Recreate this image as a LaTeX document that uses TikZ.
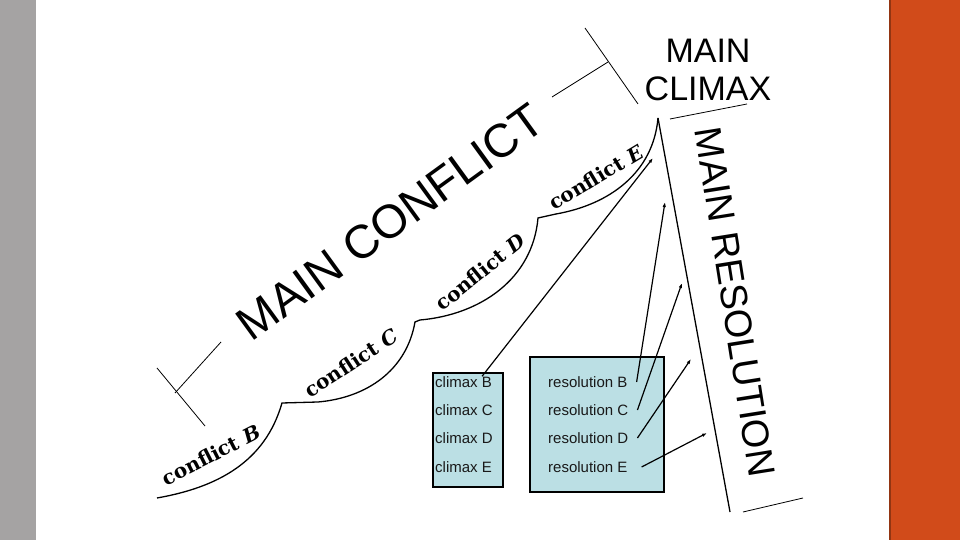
\documentclass[tikz,border=0pt]{standalone}
\usepackage{fontspec}
\setmainfont{Liberation Sans}
\newfontfamily\conffont{DejaVu Serif}
\usetikzlibrary{arrows.meta}
\definecolor{bargray}{RGB}{165,163,163}
\definecolor{barorange}{RGB}{209,75,26}
\definecolor{boxblue}{RGB}{187,223,228}

\begin{document}
\begin{tikzpicture}[x=1pt,y=1pt,
  arc/.style={draw=black,line width=1.3pt},
  tick/.style={draw=black,line width=0.8pt},
  ptr/.style={-{Latex[length=5pt,width=3.5pt]},draw=black,line width=1.2pt},
  big/.style={font=\fontsize{47}{47}\selectfont,inner sep=0pt},
  conf/.style={font=\conffont\bfseries\fontsize{20}{20}\selectfont,inner sep=0pt},
  box/.style={draw=black,line width=1.3pt,fill=boxblue,inner sep=0pt},
  row/.style={font=\fontsize{15}{15}\selectfont,text=black!90,anchor=west,inner sep=0pt},
]
\useasboundingbox (0,0) rectangle (960,540);
\fill[bargray] (0,0) rectangle (36,540);
\fill[barorange] (889,0) rectangle (960,540);
\fill[barorange!70!black] (889,0) rectangle (891,540);

\node[big,rotate=36] (conflict) at (390,318) {MAIN CONFLICT};
\node[font=\fontsize{34}{38}\selectfont,align=center,inner sep=0pt] (climax) at (708,470) {MAIN\\CLIMAX};
\node[font=\fontsize{38}{38}\selectfont,rotate=-81,inner sep=0pt] (resol) at (735,238) {MAIN RESOLUTION};

\draw[tick] (157,172) -- (205,114);
\draw[tick] (175,147) -- (221,198);
\draw[tick] (585,512) -- (638,436);
\draw[tick] (552,443) -- (608,478);

\coordinate (k0) at (157,42);
\coordinate (k1) at (282,137);
\coordinate (k2) at (415,218);
\coordinate (k3) at (538,322);
\coordinate (peak) at (658,422);
\coordinate (foot) at (730,28);
\draw[arc] (k0) to[out=10,in=-106] (k1) -- (318,138) to[out=5,in=-100] (k2)
  -- (420,220) to[out=5,in=-95] (k3) -- (556,326) to[out=10,in=-95] (peak);
\draw[arc] (peak) -- (foot);
\draw[tick] (670,421) -- (747,436);
\draw[tick] (743,28) -- (803,42);

\node[conf,rotate=27] (confB) at (211,85) {conflict \textit{B}};
\node[conf,rotate=33] (confC) at (351,177) {conflict \textit{C}};
\node[conf,rotate=39] (confD) at (480,268) {conflict \textit{D}};
\node[conf,rotate=31] (confE) at (596,363) {conflict \textit{E}};

\node[box,minimum width=70pt,minimum height=114pt] (climaxbox) at (468,110) {};
\node[box,minimum width=134pt,minimum height=135pt] (resbox) at (597,115.5) {};
\node[row] (cB) at (435,158) {climax B};
\node[row] (cC) at (435,130) {climax C};
\node[row] (cD) at (435,102) {climax D};
\node[row] (cE) at (435,73) {climax E};
\node[row] (rB) at (548,158) {resolution B};
\node[row] (rC) at (548,130) {resolution C};
\node[row] (rD) at (548,102) {resolution D};
\node[row] (rE) at (548,73) {resolution E};

\coordinate (tipC) at (653,382);
\coordinate (tipRB) at (665,338);
\coordinate (tipRC) at (682,257);
\coordinate (tipRD) at (691,181);
\coordinate (tipRE) at (707,107);
\draw[ptr] ([xshift=-10pt]cB.north east) -- (tipC);
\draw[ptr] ([xshift=9pt]rB.east) -- (tipRB);
\draw[ptr] ([xshift=9pt]rC.east) -- (tipRC);
\draw[ptr] ([xshift=9pt]rD.east) -- (tipRD);
\draw[ptr] ([xshift=14pt]rE.east) -- (tipRE);
\end{tikzpicture}
\end{document}
